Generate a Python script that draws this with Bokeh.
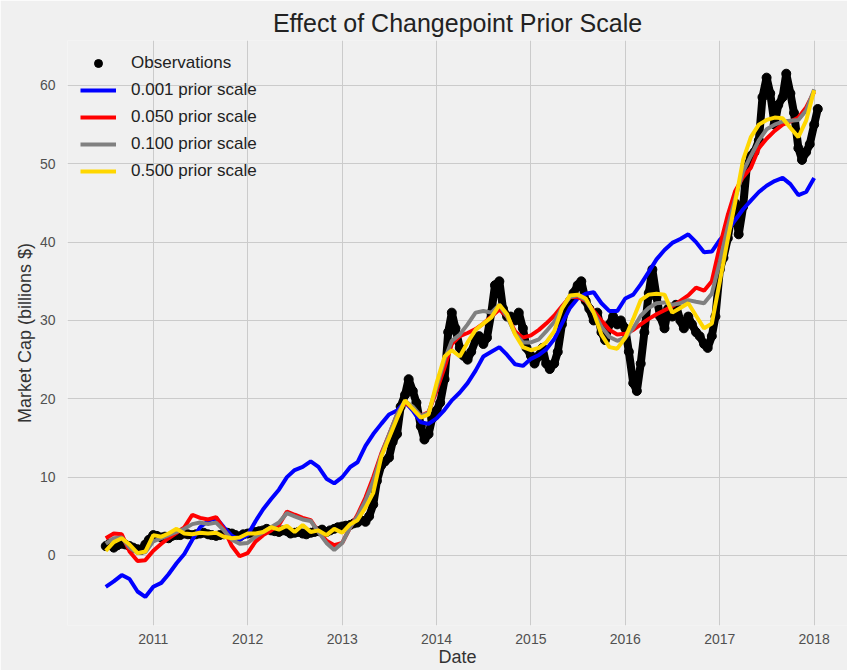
import pandas as pd
from bokeh.plotting import figure
from bokeh.models import Range1d, FixedTicker, DatetimeTickFormatter
from bokeh.embed import file_html
from bokeh.resources import INLINE

# ---------------- data ----------------
line_dates = pd.date_range("2010-07-01", periods=91, freq="MS")
obs_dates = pd.date_range("2010-07-01", periods=182, freq="SMS")

obs_values = [
    1.2, 1.5, 1.0, 1.3, 1.5, 1.4, 1.2, 1.0, 0.8, 0.7, 1.4, 2.0,
    2.6, 2.5, 2.3, 2.4, 2.2, 2.5, 2.6, 2.6, 2.8, 2.7, 2.6, 2.7,
    2.8, 2.9, 2.7, 2.6, 2.5, 2.6, 2.7, 2.9, 2.8, 2.6, 2.4, 2.7,
    2.8, 2.9, 3.0, 3.1, 3.2, 3.4, 3.2, 3.1, 3.0, 3.2, 3.1, 2.8,
    2.9, 3.0, 2.8, 2.7, 2.9, 3.0, 3.1, 3.3, 3.0, 3.2, 3.4, 3.6,
    3.7, 3.8, 3.9, 4.1, 4.2, 4.5, 4.3, 5.0, 6.5, 9.5, 11.5, 12.0,
    12.5, 14.5, 15.5, 19.0, 20.5, 22.5, 21.0, 19.5, 16.5, 14.8, 15.5, 17.5,
    18.5, 19.5, 22.5, 28.5, 31.0, 29.0, 26.5, 25.5, 25.0, 26.0, 27.5, 28.0,
    27.0, 27.8, 31.0, 34.5, 35.0, 31.5, 30.5, 30.5, 30.0, 31.0, 29.0, 26.5,
    25.5, 24.5, 25.5, 26.5, 24.5, 23.8, 24.5, 26.0, 29.5, 31.5, 32.5, 33.5,
    34.5, 35.0, 32.5, 31.5, 30.0, 31.0, 28.5, 27.5, 29.5, 30.5, 29.5, 30.0,
    29.0, 26.0, 22.0, 21.0, 24.5, 28.5, 33.5, 36.5, 33.0, 30.5, 29.0, 31.5,
    30.5, 32.0, 30.0, 29.0, 30.5, 29.5, 28.5, 28.0, 27.0, 26.5, 28.0, 30.5,
    36.5, 38.0, 40.5, 43.5, 45.0, 41.0, 44.5, 49.5, 51.0, 51.5, 53.0, 58.5,
    61.0, 59.0, 55.0, 57.5, 58.5, 61.5, 59.0, 56.5, 52.0, 50.5, 51.5, 52.5,
    55.0, 57.0,
]

scale_0001 = [
    -4.0, -3.3, -2.5, -3.0, -4.6, -5.3, -4.0, -3.5, -2.4, -1.0, 0.2, 2.0,
    3.6, 4.4, 4.8, 3.6, 2.5, 2.0, 2.6, 4.4, 5.9, 7.2, 8.4, 10.0,
    10.9, 11.3, 12.0, 11.3, 9.8, 9.2, 10.0, 11.3, 11.9, 14.0, 15.5, 16.8,
    18.0, 18.5, 19.6, 18.5, 17.0, 16.8, 17.5, 18.6, 19.8, 20.8, 22.0, 23.6,
    25.4, 26.0, 26.6, 25.6, 24.4, 24.2, 25.1, 25.6, 26.3, 27.6, 29.6, 31.6,
    32.8, 33.4, 33.6, 32.2, 31.2, 31.2, 32.8, 33.3, 34.6, 36.2, 37.8, 39.0,
    39.9, 40.4, 41.0, 40.0, 38.7, 38.8, 40.3, 41.4, 42.8, 44.2, 45.3, 46.4,
    47.2, 47.8, 48.2, 47.4, 46.0, 46.4, 48.2,
]

scale_0050 = [
    2.2, 2.8, 2.7, 0.5, -0.7, -0.6, 0.6, 1.5, 2.2, 2.9, 3.6, 5.2,
    4.8, 4.6, 4.9, 3.4, 1.2, -0.1, 0.3, 1.8, 2.6, 3.2, 3.9, 5.6,
    5.2, 4.8, 4.5, 3.0, 1.9, 1.3, 1.6, 3.6, 5.2, 7.4, 10.0, 13.0,
    15.4, 18.0, 19.5, 18.8, 17.8, 18.3, 21.0, 24.0, 27.0, 28.0, 28.4, 28.9,
    29.6, 30.5, 31.4, 30.5, 28.6, 27.8, 28.1, 28.8, 29.6, 30.6, 31.8, 33.0,
    33.0, 32.5, 31.2, 30.0, 28.8, 28.2, 28.3, 28.8, 29.5, 30.2, 30.8, 31.3,
    31.8, 32.5, 33.2, 34.2, 33.8, 35.0, 39.5, 43.5, 46.5, 48.3, 49.5, 52.0,
    53.2, 54.2, 55.0, 55.4, 55.9, 57.2, 59.2,
]

scale_0100 = [
    1.5, 2.2, 2.3, 1.0, 0.3, 0.4, 1.8, 2.2, 2.6, 3.0, 3.4, 4.0,
    4.2, 4.0, 4.2, 3.2, 2.0, 1.5, 1.6, 2.4, 3.0, 3.6, 4.2, 5.4,
    5.0, 4.6, 4.4, 3.0, 1.6, 0.7, 1.6, 3.6, 5.0, 7.0, 9.5, 12.8,
    15.4, 18.0, 19.7, 19.0, 17.8, 18.2, 21.5, 25.0, 27.4, 28.2, 29.5, 31.0,
    31.2, 31.0, 32.0, 30.5, 28.3, 27.2, 27.2, 27.6, 28.6, 29.8, 31.6, 33.0,
    33.2, 32.6, 31.0, 29.2, 27.9, 27.4, 27.8, 29.0, 30.6, 31.6, 32.2, 32.3,
    32.0, 32.2, 32.6, 32.4, 32.2, 33.4, 37.5, 42.0, 45.5, 49.0, 51.0, 53.0,
    54.4, 55.0, 55.4, 55.5, 55.6, 56.8, 59.5,
]

scale_0500 = [
    0.6, 1.7, 2.2, 1.4, 0.3, 0.5, 2.6, 2.4, 2.8, 3.4, 2.8, 2.7,
    2.9, 2.8, 2.9, 2.4, 2.2, 2.3, 2.8, 2.8, 3.0, 3.6, 3.3, 3.8,
    3.0, 3.9, 3.0, 3.2, 2.6, 3.4, 2.9, 4.0, 4.5, 6.1, 8.0, 12.6,
    15.0, 17.5, 19.8, 18.7, 17.6, 18.0, 22.0, 25.4, 26.2, 25.4, 27.2, 28.8,
    29.6, 30.4, 32.0, 30.8, 28.2, 26.6, 26.2, 26.5, 27.2, 28.6, 31.5, 33.2,
    33.3, 32.8, 31.0, 28.2, 26.6, 26.4, 27.8, 30.2, 32.6, 33.3, 33.4, 33.3,
    31.0, 31.6, 32.2, 30.6, 29.0, 29.6, 35.0, 40.4, 45.0, 50.5, 53.4, 55.0,
    55.6, 55.9, 55.8, 54.6, 53.4, 55.5, 59.4,
]

series_labels = ["0.001 prior scale", "0.050 prior scale", "0.100 prior scale", "0.500 prior scale"]
series_colors = ["#0000ff", "#ff0000", "#808080", "#ffd700"]
series_values = [scale_0001, scale_0050, scale_0100, scale_0500]

year_ticks = [2011, 2012, 2013, 2014, 2015, 2016, 2017, 2018]
y_ticks = [0, 10, 20, 30, 40, 50, 60]

# ---------------- figure ----------------
FONT = "Liberation Sans"
BG = "#f0f0f0"

p = figure(
    width=847, height=670,
    x_axis_type="datetime",
    output_backend="svg",
    toolbar_location=None,
    x_range=Range1d(pd.Timestamp("2010-02-03"), pd.Timestamp("2018-05-10")),
    y_range=Range1d(-8.94, 65.74),
    min_border_left=67, min_border_right=0,
    min_border_top=40, min_border_bottom=45,
    background_fill_color=BG, border_fill_color=BG,
    title="Effect of Changepoint Prior Scale",
)
p.outline_line_color = None

p.title.align = "center"
p.title.text_font = FONT
p.title.text_font_size = "25px"
p.title.text_font_style = "normal"
p.title.text_color = "#222222"
p.title.standoff = 8

# observations: dense band of dots
p.line(obs_dates, obs_values, line_color="black", line_width=8)
p.scatter(obs_dates, obs_values, size=9, color="black", legend_label="Observations")

for vals, col, lab in zip(series_values, series_colors, series_labels):
    p.line(line_dates, vals, line_color=col, line_width=4, legend_label=lab)

# axes
tick_ms = [pd.Timestamp(f"{y}-01-01").value // 10**6 for y in year_ticks]
p.xaxis.ticker = FixedTicker(ticks=tick_ms)
p.xaxis.formatter = DatetimeTickFormatter(
    years="%Y", months="%Y", days="%Y", hours="%Y", minutes="%Y",
    seconds="%Y", milliseconds="%Y", microseconds="%Y", hourmin="%Y", minsec="%Y",
)
p.yaxis.ticker = FixedTicker(ticks=y_ticks)

for ax in (p.xaxis, p.yaxis):
    ax.axis_line_color = None
    ax.major_tick_line_color = None
    ax.minor_tick_line_color = None
    ax.major_label_text_font = FONT
    ax.major_label_text_font_size = "14px"
    ax.major_label_text_color = "#505050"
    ax.axis_label_text_font = FONT
    ax.axis_label_text_font_size = "18px"
    ax.axis_label_text_font_style = "normal"
    ax.axis_label_text_color = "#333333"

p.xaxis.axis_label = "Date"
p.yaxis.axis_label = "Market Cap (billions $)"
p.xaxis.major_label_standoff = 2
p.xaxis.axis_label_standoff = 0
p.yaxis.major_label_standoff = 6
p.yaxis.axis_label_standoff = 2

p.xgrid.grid_line_color = "#cbcbcb"
p.ygrid.grid_line_color = "#cbcbcb"
p.xgrid.grid_line_width = 1
p.ygrid.grid_line_width = 1

# legend
lg = p.legend[0]
lg.location = "top_left"
lg.background_fill_alpha = 0
lg.border_line_color = None
lg.label_text_font = FONT
lg.label_text_font_size = "17px"
lg.label_text_color = "#222222"
lg.glyph_width = 36
lg.glyph_height = 20
lg.label_height = 20
lg.spacing = 7
lg.label_standoff = 15
lg.padding = 13
lg.margin = 13

open("out.html", "w").write(file_html(p, INLINE))
